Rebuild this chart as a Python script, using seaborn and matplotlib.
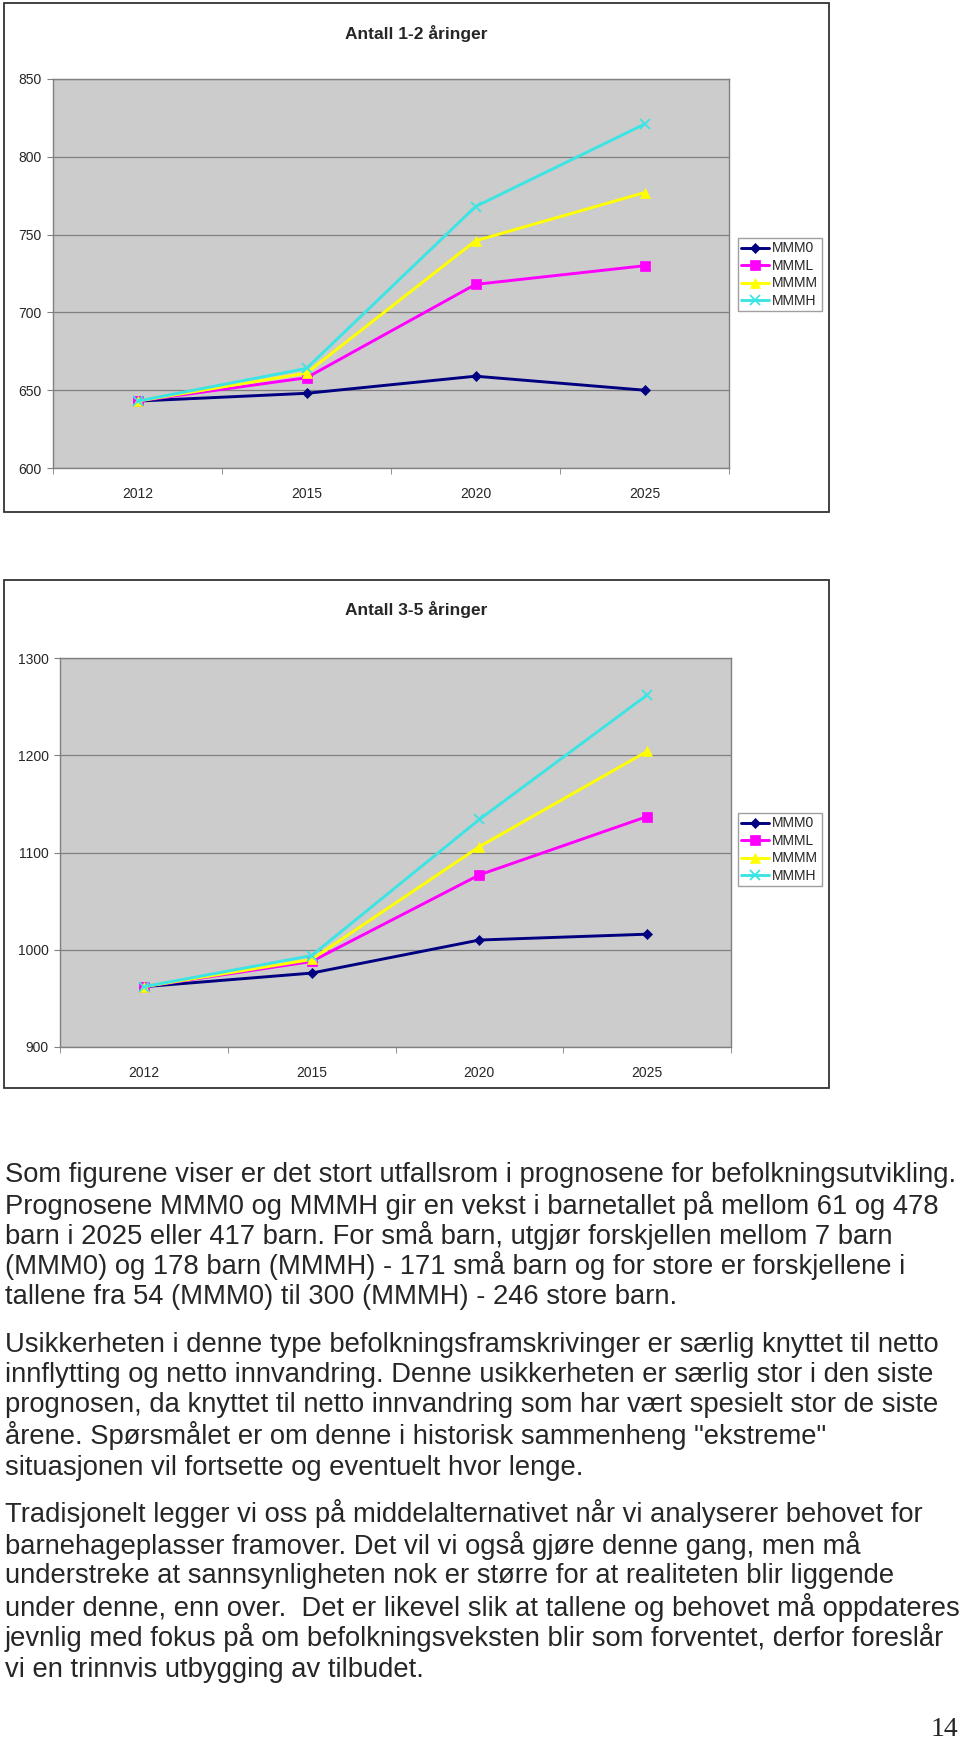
import pandas as pd
import matplotlib
matplotlib.use("Agg")
import matplotlib.pyplot as plt
from matplotlib import font_manager
from matplotlib.patches import Rectangle
import seaborn as sns

# data
years = ["2012", "2015", "2020", "2025"]
series_names = ["MMM0", "MMML", "MMMM", "MMMH"]

age12_mmm0 = [643, 648, 659, 650]
age12_mmml = [643, 658, 718, 730]
age12_mmmm = [643, 661, 746, 777]
age12_mmmh = [643, 664, 768, 821]

age35_mmm0 = [962, 976, 1010, 1016]
age35_mmml = [962, 988, 1077, 1137]
age35_mmmm = [962, 990, 1106, 1204]
age35_mmmh = [962, 994, 1134, 1262]

series_colors = ["#000080", "#FF00FF", "#FFFF00", "#3CE4E4"]
series_markers = ["D", "s", "^", "x"]

body_lines = [
    "Som figurene viser er det stort utfallsrom i prognosene for befolkningsutvikling.",
    "Prognosene MMM0 og MMMH gir en vekst i barnetallet på mellom 61 og 478",
    "barn i 2025 eller 417 barn. For små barn, utgjør forskjellen mellom 7 barn",
    "(MMM0) og 178 barn (MMMH) - 171 små barn og for store er forskjellene i",
    "tallene fra 54 (MMM0) til 300 (MMMH) - 246 store barn.",
    "Usikkerheten i denne type befolkningsframskrivinger er særlig knyttet til netto",
    "innflytting og netto innvandring. Denne usikkerheten er særlig stor i den siste",
    "prognosen, da knyttet til netto innvandring som har vært spesielt stor de siste",
    "årene. Spørsmålet er om denne i historisk sammenheng \"ekstreme\"",
    "situasjonen vil fortsette og eventuelt hvor lenge.",
    "Tradisjonelt legger vi oss på middelalternativet når vi analyserer behovet for",
    "barnehageplasser framover. Det vil vi også gjøre denne gang, men må",
    "understreke at sannsynligheten nok er større for at realiteten blir liggende",
    "under denne, enn over.  Det er likevel slik at tallene og behovet må oppdateres",
    "jevnlig med fokus på om befolkningsveksten blir som forventet, derfor foreslår",
    "vi en trinnvis utbygging av tilbudet.",
]
body_y = [1175, 1205, 1235, 1266, 1297, 1345, 1375, 1405, 1436, 1468,
          1513, 1545, 1576, 1607, 1638, 1670]

W, H = 960, 1741

sns.set_style("white")
plt.rcParams["font.family"] = ["Liberation Sans", "DejaVu Sans"]


def pick_font(names):
    for n in names:
        try:
            font_manager.findfont(n, fallback_to_default=False)
            return n
        except Exception:
            pass
    return "Liberation Sans"


body_font = pick_font(["Liberation Sans Narrow", "Liberation Sans"])
body_size = 17.5 if body_font == "Liberation Sans Narrow" else 19.75


def fx(px):
    return px / W


def fy(py):
    return 1 - py / H


def make_long(values_list):
    rows = []
    for name, vals in zip(series_names, values_list):
        for yr, v in zip(years, vals):
            rows.append({"year": yr, "series": name, "value": v})
    return pd.DataFrame(rows)


def draw_chart(fig, frame, plot_box, title, title_y, df, ylim, ystep, legend_top):
    # outer chart frame
    x0, y0, x1, y1 = frame
    fig.patches.append(Rectangle((fx(x0), fy(y1)), fx(x1 - x0), (y1 - y0) / H,
                                 transform=fig.transFigure, fill=False,
                                 edgecolor="#333333", linewidth=1.3))
    fig.text(fx((x0 + x1) / 2), fy(title_y), title, ha="center", va="center",
             fontsize=12.5, fontweight="bold")

    l, t, r, b = plot_box
    ax = fig.add_axes([fx(l), fy(b), fx(r - l), (b - t) / H])
    ax.set_facecolor("#CCCCCC")
    sns.lineplot(data=df, x="year", y="value", hue="series",
                 hue_order=series_names, palette=series_colors,
                 errorbar=None, linewidth=2.1, legend=False, ax=ax)
    # excel style markers, set per series after seaborn has drawn the lines
    for ln, c, m in zip(ax.lines, series_colors, series_markers):
        ln.set_marker(m)
        ln.set_markeredgecolor(c)
        ln.set_markerfacecolor(c)
        if m == "x":
            ln.set_markersize(7.5)
            ln.set_markeredgewidth(1.3)
        else:
            ln.set_markersize(6.5 if m != "D" else 5.5)
            ln.set_markeredgewidth(0.5)

    ax.set_xlim(-0.5, len(years) - 0.5)
    ax.set_ylim(*ylim)
    ax.set_yticks(range(ylim[0], ylim[1] + 1, ystep))
    ax.set_xticks(range(len(years)))
    ax.set_xticklabels(years)
    ax.set_xticks([i - 0.5 for i in range(len(years) + 1)], minor=True)
    ax.tick_params(axis="x", which="major", length=0, pad=14, labelsize=10)
    ax.tick_params(axis="x", which="minor", length=4, color="#808080", direction="out",
                   bottom=True)
    ax.tick_params(axis="y", which="major", length=4, color="#808080", direction="out",
                   pad=4, labelsize=10, left=True)
    ax.set_xlabel("")
    ax.set_ylabel("")
    ax.grid(axis="y", color="#808080", linewidth=0.9)
    ax.set_axisbelow(True)
    for sp in ax.spines.values():
        sp.set_color("#808080")
        sp.set_linewidth(1.0)

    ax.legend(handles=ax.lines[:4], labels=series_names, loc="upper left",
              bbox_to_anchor=(fx(738), fy(legend_top)), bbox_transform=fig.transFigure,
              frameon=True, fancybox=False, edgecolor="#A0A0A0", framealpha=1,
              fontsize=10, borderpad=0.25, labelspacing=0.25, handlelength=2.0,
              handletextpad=0.2, borderaxespad=0)
    return ax


fig = plt.figure(figsize=(W / 100, H / 100), dpi=100)

df12 = make_long([age12_mmm0, age12_mmml, age12_mmmm, age12_mmmh])
df35 = make_long([age35_mmm0, age35_mmml, age35_mmmm, age35_mmmh])

draw_chart(fig, (4, 3, 829, 512), (53, 79, 729, 468), "Antall 1-2 åringer", 33,
           df12, (600, 850), 50, 238)
draw_chart(fig, (4, 580, 829, 1088), (60, 658, 731, 1047), "Antall 3-5 åringer", 609,
           df35, (900, 1300), 100, 813)

for txt, yy in zip(body_lines, body_y):
    fig.text(fx(5), fy(yy), txt, ha="left", va="center", fontsize=body_size,
             family=[body_font, "DejaVu Sans"])

fig.text(fx(958), fy(1730), "14", ha="right", va="center", fontsize=20,
         family=["Liberation Serif", "DejaVu Serif"])

fig.savefig("out.png", dpi=100)
